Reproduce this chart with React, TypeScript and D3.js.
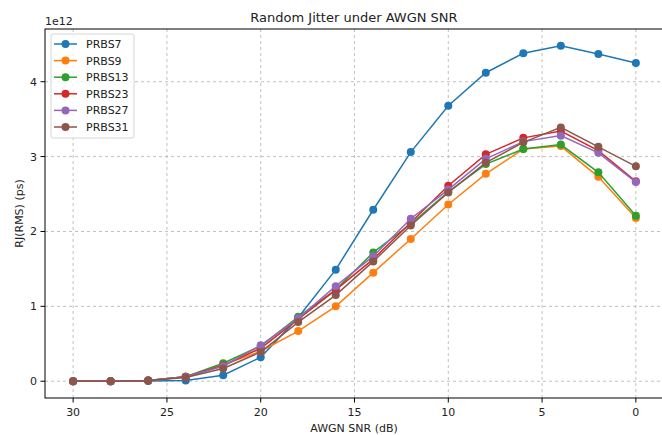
import React from "react";
import * as d3 from "d3";

// AWGN SNR sweep (dB), values in units of 1e12
const snr = [30, 28, 26, 24, 22, 20, 18, 16, 14, 12, 10, 8, 6, 4, 2, 0];
const prbs7 = [0, 0, 0.002, 0.01, 0.08, 0.32, 0.85, 1.49, 2.29, 3.06, 3.68, 4.12, 4.38, 4.48, 4.37, 4.25];
const prbs9 = [0, 0, 0.01, 0.06, 0.22, 0.4, 0.67, 1.0, 1.45, 1.9, 2.36, 2.77, 3.1, 3.14, 2.73, 2.18];
const prbs13 = [0, 0, 0.01, 0.06, 0.24, 0.47, 0.86, 1.22, 1.72, 2.1, 2.53, 2.9, 3.1, 3.16, 2.79, 2.21];
const prbs23 = [0, 0, 0.01, 0.06, 0.21, 0.44, 0.83, 1.22, 1.63, 2.12, 2.61, 3.03, 3.25, 3.34, 3.08, 2.67];
const prbs27 = [0, 0, 0.01, 0.06, 0.2, 0.48, 0.84, 1.27, 1.67, 2.17, 2.56, 2.97, 3.2, 3.28, 3.05, 2.66];
const prbs31 = [0, 0, 0.01, 0.05, 0.17, 0.39, 0.79, 1.15, 1.6, 2.08, 2.52, 2.92, 3.19, 3.39, 3.13, 2.87];

const seriesNames = ["PRBS7", "PRBS9", "PRBS13", "PRBS23", "PRBS27", "PRBS31"];
const seriesValues = [prbs7, prbs9, prbs13, prbs23, prbs27, prbs31];
const colors = ["#1f77b4", "#ff7f0e", "#2ca02c", "#d62728", "#9467bd", "#8c564b"];

const xTicks = [30, 25, 20, 15, 10, 5, 0];
const yTicks = [0, 1, 2, 3, 4];

const W = 662;
const H = 435;
const margin = { top: 29, right: -2, bottom: 37, left: 45 };
const font = "DejaVu Sans, sans-serif";

export default function App() {
  const x = d3
    .scaleLinear()
    .domain([31.5, -1.5])
    .range([margin.left, W - margin.right]);
  const y = d3
    .scaleLinear()
    .domain([-0.224, 4.704])
    .range([H - margin.bottom, margin.top]);

  const line = d3
    .line<number>()
    .x((_, i) => x(snr[i]))
    .y((d) => y(d));

  const x0 = margin.left;
  const x1 = W - margin.right;
  const y0 = H - margin.bottom;
  const y1 = margin.top;

  return (
    <svg
      width={W}
      height={H}
      style={{ position: "absolute", left: 0, top: 0, background: "#fff" }}
      fontFamily={font}
    >
      {/* grid */}
      {xTicks.map((t) => (
        <line key={"gx" + t} x1={x(t)} x2={x(t)} y1={y0} y2={y1} stroke="#b0b0b0" strokeWidth={0.8} strokeDasharray="3,3" />
      ))}
      {yTicks.map((t) => (
        <line key={"gy" + t} x1={x0} x2={x1} y1={y(t)} y2={y(t)} stroke="#b0b0b0" strokeWidth={0.8} strokeDasharray="3,3" />
      ))}

      {/* series */}
      {seriesValues.map((vals, si) => (
        <g key={seriesNames[si]}>
          <path d={line(vals) || ""} fill="none" stroke={colors[si]} strokeWidth={1.5} />
          {vals.map((v, i) => (
            <circle key={i} cx={x(snr[i])} cy={y(v)} r={4} fill={colors[si]} />
          ))}
        </g>
      ))}

      {/* spines */}
      <rect x={x0} y={y1} width={x1 - x0} height={y0 - y1} fill="none" stroke="#000" strokeWidth={1} />

      {/* x axis */}
      {xTicks.map((t) => (
        <g key={"xt" + t}>
          <line x1={x(t)} x2={x(t)} y1={y0} y2={y0 + 4.5} stroke="#000" strokeWidth={1} />
          <text x={x(t)} y={416} textAnchor="middle" fontSize={11} fill="#222">
            {t}
          </text>
        </g>
      ))}
      <text x={354} y={432} textAnchor="middle" fontSize={11} fill="#222">
        AWGN SNR (dB)
      </text>

      {/* y axis */}
      {yTicks.map((t) => (
        <g key={"yt" + t}>
          <line x1={x0 - 4.5} x2={x0} y1={y(t)} y2={y(t)} stroke="#000" strokeWidth={1} />
          <text x={x0 - 8} y={y(t) + 4} textAnchor="end" fontSize={11} fill="#222">
            {t}
          </text>
        </g>
      ))}
      <text x={45} y={25} fontSize={11} fill="#222">
        1e12
      </text>
      <text
        transform={`translate(23,${(y0 + y1) / 2}) rotate(-90)`}
        textAnchor="middle"
        fontSize={11}
        fill="#222"
      >
        RJ(RMS) (ps)
      </text>

      {/* title */}
      <text x={354} y={22} textAnchor="middle" fontSize={13} fill="#222">
        Random Jitter under AWGN SNR
      </text>

      {/* legend */}
      <rect x={51} y={34} width={83} height={104} rx={2} fill="#fff" fillOpacity={0.8} stroke="#d6d6d6" strokeWidth={1} />
      {seriesNames.map((name, i) => {
        const ly = 44 + i * 16.6;
        return (
          <g key={"lg" + name}>
            <line x1={54} x2={77} y1={ly} y2={ly} stroke={colors[i]} strokeWidth={1.5} />
            <circle cx={65.5} cy={ly} r={4} fill={colors[i]} />
            <text x={86} y={ly + 4} fontSize={11} fill="#222">
              {name}
            </text>
          </g>
        );
      })}
    </svg>
  );
}
